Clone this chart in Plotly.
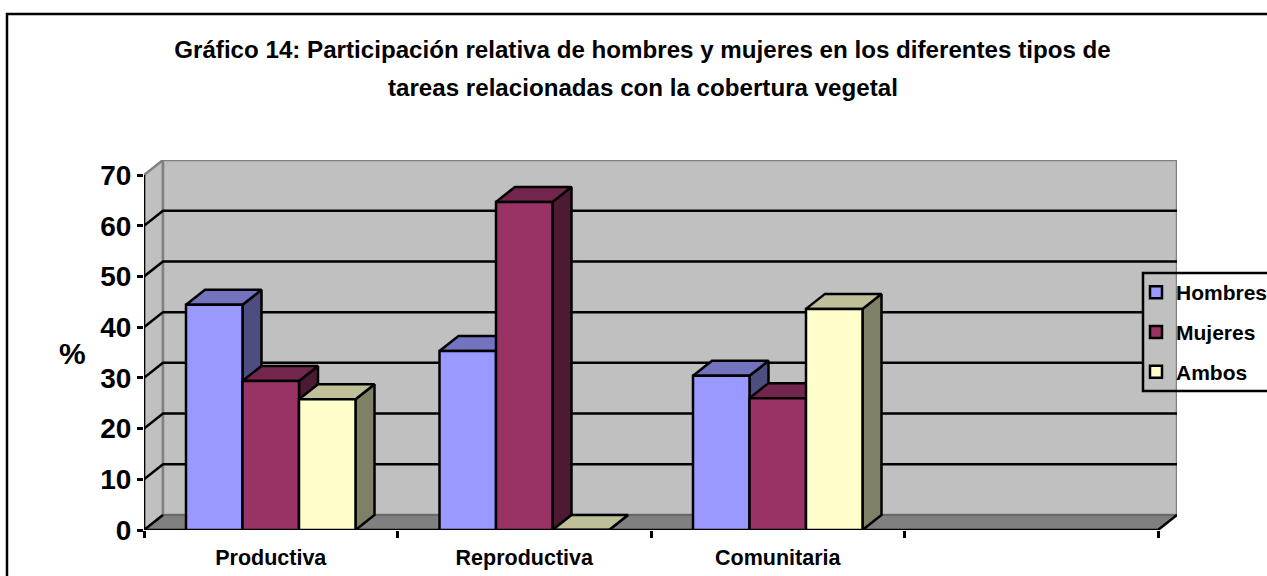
import plotly.graph_objects as go

categories = ["Productiva", "Reproductiva", "Comunitaria", ""]
series_names = ["Hombres", "Mujeres", "Ambos"]
hombres = [44.4, 35.3, 30.4, None]
mujeres = [29.4, 64.7, 26.0, None]
ambos = [25.8, 0, 43.6, None]
series_values = [hombres, mujeres, ambos]
front_colors = ["#9999FF", "#993366", "#FFFFCC"]
top_colors = ["#7373BF", "#73264D", "#BFBF99"]
side_colors = ["#4D4D80", "#4D1A33", "#808066"]
y_ticks = [0, 10, 20, 30, 40, 50, 60, 70]

W, H = 1267, 576
L, R, T, B = 144, 1177, 160, 530
PX_X = 253.5
PX_Y = 5.07
DX = 19 / PX_X
DY = 15 / PX_Y
YMAX = 70
N = len(categories)
BAR_W = 56.5 / PX_X
LEGEND_CUT = N + DX - (1177 - 1143) / PX_X
EDGE = 2.5

px = lambda x: (x - L) / (R - L)
py = lambda y: (B - y) / (B - T)

fig = go.Figure()


def poly(xs, ys, fill, line="black", width=EDGE):
    fig.add_trace(go.Scatter(x=xs, y=ys, mode="lines", fill="toself", fillcolor=fill,
                             line=dict(color=line, width=width), hoverinfo="skip",
                             showlegend=False, cliponaxis=False))


def path(xs, ys, color="black", width=EDGE):
    fig.add_trace(go.Scatter(x=xs, y=ys, mode="lines", line=dict(color=color, width=width),
                             hoverinfo="skip", showlegend=False, cliponaxis=False))


# walls
poly([0, DX, DX, 0, 0], [0, DY, YMAX + DY, YMAX, 0], "#C0C0C0", "#808080", 2.5)
poly([DX, N + DX, N + DX, DX, DX], [DY, DY, YMAX + DY, YMAX + DY, DY], "#C0C0C0", "#808080", 2.5)

# gridlines
for v in y_ticks[1:-1]:
    end = LEGEND_CUT if v in (30, 40) else N + DX
    path([0, DX, end], [v, v + DY, v + DY])

# floor
poly([0, DX, N + DX, N, 0], [0, DY, DY, 0, 0], "#808080", "#606060", 1.5)
path([0, DX], [0, DY])
path([N, N + DX], [0, DY])

# 3D sides and tops
for c in range(N):
    for s in range(len(series_names)):
        v = series_values[s][c]
        if v is None:
            continue
        x0 = c + 0.5 + (s - 1.5) * BAR_W
        x1 = x0 + BAR_W
        poly([x1, x1 + DX, x1 + DX, x1, x1], [0, DY, v + DY, v, 0], side_colors[s])
        poly([x0, x1, x1 + DX, x0 + DX, x0], [v, v, v + DY, v + DY, v], top_colors[s])

# front axis lines
path([0, 0], [0, YMAX])
path([0, N], [0, 0])

# bar fronts, on an overlaying axis pair so they cover every side face
centers = [c + 0.5 for c in range(N)]
for s, name in enumerate(series_names):
    fig.add_trace(go.Bar(x=centers, y=series_values[s], name=name, xaxis="x2", yaxis="y2",
                         marker=dict(color=front_colors[s], line=dict(color="black", width=EDGE)),
                         legendgroup=name, cliponaxis=False, showlegend=True))

xr = [0, N + DX]
yr = [0, YMAX + DY]
font = "Liberation Sans, Arial, sans-serif"
fig.update_layout(
    width=W, height=H, autosize=False,
    margin=dict(l=L, r=W - R, t=T, b=H - B, pad=0, autoexpand=False),
    paper_bgcolor="white", plot_bgcolor="rgba(0,0,0,0)",
    barmode="group", bargap=1 - 3 * BAR_W, bargroupgap=0,
    font=dict(family=font, color="black"),
    title=dict(text="Gráfico 14: Participación relativa de hombres y mujeres en los diferentes tipos de",
               x=642.5 / W, xanchor="center", y=1 - 50 / H, yanchor="middle",
               font=dict(size=24.15, family=font, color="black", weight=700)),
    xaxis=dict(range=xr, showgrid=False, zeroline=False, showline=False,
               tickmode="array", tickvals=centers, ticktext=categories,
               ticks="", tickfont=dict(size=21.5, family=font, weight=700), ticklabelstandoff=12,
               minor=dict(tickmode="array", tickvals=list(range(N + 1)), ticks="outside",
                          ticklen=7, tickwidth=2.5, tickcolor="black")),
    yaxis=dict(range=yr, showgrid=False, zeroline=False, showline=False,
               tickmode="array", tickvals=y_ticks,
               ticks="outside", ticklen=6, tickwidth=2.5, tickcolor="black",
               tickfont=dict(size=28, family=font, weight=700)),
    xaxis2=dict(range=xr, overlaying="x", visible=False),
    yaxis2=dict(range=yr, overlaying="y", visible=False),
    legend=dict(x=px(1136), y=py(272), xanchor="left", yanchor="top",
                bgcolor="rgba(0,0,0,0)", borderwidth=0, tracegroupgap=9.5,
                font=dict(size=21, family=font, color="black", weight=700), traceorder="grouped"),
    annotations=[
        dict(text="tareas relacionadas con la cobertura vegetal", x=px(642.5), y=py(87),
             xref="paper", yref="paper", showarrow=False, xanchor="center", yanchor="middle",
             font=dict(size=24.15, family=font, color="black", weight=700)),
        dict(text="%", x=px(72), y=py(353), xref="paper", yref="paper", showarrow=False,
             xanchor="center", yanchor="middle", font=dict(size=30, family=font, weight=700)),
    ],
    shapes=[
        dict(type="rect", xref="paper", yref="paper", x0=px(1143), x1=px(1275), y0=py(391), y1=py(273),
             line=dict(color="black", width=2.5)),
        dict(type="path", xref="paper", yref="paper", layer="above",
             path=f"M{px(7)},{py(580)} L{px(7)},{py(14)} L{px(1270)},{py(14)}",
             line=dict(color="black", width=2.5)),
    ],
)
fig.write_html("out.html", post_script="document.body.style.margin='0';",
               config=dict(displayModeBar=False))
